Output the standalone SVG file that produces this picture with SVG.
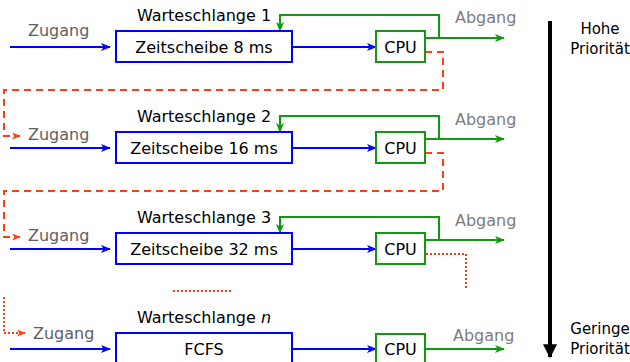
<svg xmlns="http://www.w3.org/2000/svg" width="630" height="362" viewBox="0 0 630 362">
  <style>
    text { font-family: "DejaVu Sans", "Liberation Sans", sans-serif; font-size: 16px; fill: #000; }
    .in { fill: #606060; }
    .out { fill: #7c7c7c; }
    .prio { font-size: 15px; text-anchor: middle; }
    .mid { text-anchor: middle; }
    .queue { fill: #fff; stroke: #0000ff; stroke-width: 2; }
    .cpu { fill: #fff; stroke: #119911; stroke-width: 2; }
    .blue { fill: none; stroke: #0000ff; stroke-width: 2; marker-end: url(#ahBlue); }
    .green { fill: none; stroke: #119911; stroke-width: 2; marker-end: url(#ahGreen); }
    .red { fill: none; stroke: #ff3c14; stroke-width: 2; stroke-dasharray: 7 5; }
    .redArrow { marker-end: url(#ahRed); }
    .dot { fill: none; stroke: #ff3c14; stroke-width: 2; stroke-dasharray: 2 2; }
  </style>
  <defs>
    <marker id="ahBlue" viewBox="0 0 10 8" refX="9" refY="4" markerWidth="10" markerHeight="8" markerUnits="userSpaceOnUse" orient="auto">
      <path d="M0,0 L10,4 L0,8 L2.5,4 z" fill="#0000ff"/>
    </marker>
    <marker id="ahGreen" viewBox="0 0 10 8" refX="9" refY="4" markerWidth="10" markerHeight="8" markerUnits="userSpaceOnUse" orient="auto">
      <path d="M0,0 L10,4 L0,8 L2.5,4 z" fill="#119911"/>
    </marker>
    <marker id="ahRed" viewBox="0 0 10 8" refX="9" refY="4" markerWidth="9" markerHeight="7" markerUnits="userSpaceOnUse" orient="auto">
      <path d="M0,0 L10,4 L0,8 L2.5,4 z" fill="#ff3c14"/>
    </marker>
    <marker id="ahBlack" viewBox="0 0 12 12" refX="11" refY="6" markerWidth="14" markerHeight="14" markerUnits="userSpaceOnUse" orient="auto">
      <path d="M0,0 L12,6 L0,12 z" fill="#000"/>
    </marker>
  </defs>

  <!-- connectors -->
  <g id="connectors">
    <!-- queue 1 -->
    <path class="blue" d="M10,47 H110"/>
    <path class="blue" d="M292,47 H376"/>
    <path class="green" d="M425,38 H504"/>
    <path class="green" d="M439,38 V15 H280 V31"/>
    <path class="red redArrow" d="M425,52 H443 V90 H4 V136 H20"/>
    <!-- queue 2 -->
    <path class="blue" d="M10,148 H110"/>
    <path class="blue" d="M292,148 H376"/>
    <path class="green" d="M425,139 H504"/>
    <path class="green" d="M439,139 V116 H280 V132"/>
    <path class="red redArrow" d="M425,153 H443 V191 H4 V237 H20"/>
    <!-- queue 3 -->
    <path class="blue" d="M10,249 H110"/>
    <path class="blue" d="M292,249 H376"/>
    <path class="green" d="M425,240 H504"/>
    <path class="green" d="M439,240 V217 H280 V233"/>
    <path class="dot" d="M426,254 H466 V290"/>
    <path class="dot" d="M173,291 H231"/>
    <!-- queue n -->
    <path class="dot redArrow" d="M4,297 V333 H25"/>
    <path class="blue" d="M10,349 H110"/>
    <path class="blue" d="M292,349 H376"/>
    <path class="green" d="M425,349 H504"/>
    <!-- priority axis -->
    <path d="M550,21 V357" stroke="#000" stroke-width="4" marker-end="url(#ahBlack)"/>
  </g>

  <!-- queue 1 -->
  <g id="queue1">
    <text x="204" y="21" class="mid">Warteschlange 1</text>
    <text x="28" y="36" class="in">Zugang</text>
    <rect class="queue" x="116" y="31" width="176" height="31"/>
    <text x="204" y="53" class="mid">Zeitscheibe 8 ms</text>
  </g>
  <g id="cpu1">
    <rect class="cpu" x="376" y="31" width="49" height="31"/>
    <text x="400.5" y="53" class="mid">CPU</text>
    <text x="455" y="23" class="out">Abgang</text>
  </g>

  <!-- queue 2 -->
  <g id="queue2">
    <text x="204" y="122" class="mid">Warteschlange 2</text>
    <text x="28" y="140" class="in">Zugang</text>
    <rect class="queue" x="116" y="132" width="176" height="31"/>
    <text x="204" y="154" class="mid">Zeitscheibe 16 ms</text>
  </g>
  <g id="cpu2">
    <rect class="cpu" x="376" y="132" width="49" height="31"/>
    <text x="400.5" y="154" class="mid">CPU</text>
    <text x="455" y="125" class="out">Abgang</text>
  </g>

  <!-- queue 3 -->
  <g id="queue3">
    <text x="204" y="223" class="mid">Warteschlange 3</text>
    <text x="28" y="241" class="in">Zugang</text>
    <rect class="queue" x="116" y="233" width="176" height="31"/>
    <text x="204" y="255" class="mid">Zeitscheibe 32 ms</text>
  </g>
  <g id="cpu3">
    <rect class="cpu" x="376" y="233" width="49" height="31"/>
    <text x="400.5" y="255" class="mid">CPU</text>
    <text x="455" y="226" class="out">Abgang</text>
  </g>

  <!-- queue n -->
  <g id="queueN">
    <text x="204" y="323" class="mid">Warteschlange <tspan font-style="italic">n</tspan></text>
    <text x="33" y="339" class="in">Zugang</text>
    <rect class="queue" x="116" y="333" width="176" height="40"/>
    <text x="204" y="355" class="mid">FCFS</text>
  </g>
  <g id="cpuN">
    <rect class="cpu" x="376" y="334" width="49" height="40"/>
    <text x="400.5" y="355" class="mid">CPU</text>
    <text x="453" y="341" class="out">Abgang</text>
  </g>

  <!-- priority labels -->
  <g id="highPriority">
    <text x="600" y="34" class="prio">Hohe</text>
    <text x="600" y="54" class="prio">Priorität</text>
  </g>
  <g id="lowPriority">
    <text x="600" y="334" class="prio">Geringe</text>
    <text x="600" y="354" class="prio">Priorität</text>
  </g>
</svg>
